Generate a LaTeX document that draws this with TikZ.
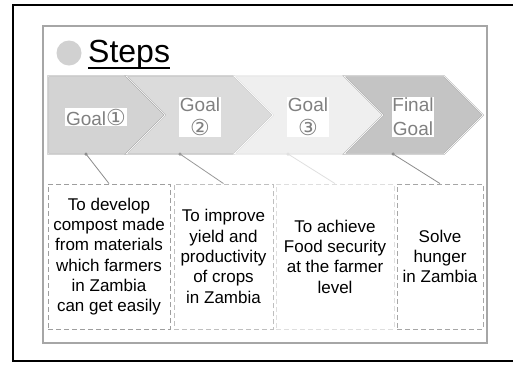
\documentclass[tikz,border=0pt]{standalone}
\usepackage{fontspec}
\setmainfont{Liberation Sans}
\newfontfamily\dvfont{DejaVu Sans}
\newcommand{\circnum}[1]{{\dvfont\fontsize{22}{24}\selectfont #1}}
\begin{document}
\begin{tikzpicture}[x=1pt,y=-1pt,
  chev/.style={draw=black!38, double=white, double distance=0.7pt, line width=0.35pt, line join=miter},
  glabel/.style={fill=white, text=black!50, inner sep=0.8pt, align=center,
    font=\fontsize{19}{24}\selectfont},
  txtbox/.style={dashed, dash pattern=on 5pt off 3pt, line width=0.9pt, minimum height=145pt,
    inner sep=0pt, align=center, text=black, font=\fontsize{17}{20.3}\selectfont},
  conn/.style={line width=0.8pt},
  dotc/.style={circle, inner sep=0pt, minimum size=3.5pt}
]
\useasboundingbox (0,0) rectangle (513,365);
\fill[white] (0,0) rectangle (513,365);
% outer black frame
\draw[line width=2.6pt] (530,5) -- (13,5) -- (13,361) -- (530,361);
% inner gray frame
\draw[line width=1.8pt, color=black!35] (43,26) rectangle (487,343);
% title
\node[circle, fill=black!18, minimum size=25pt, inner sep=0pt] (bullet) at (69,53) {};
\node[anchor=base west, inner sep=0pt, font=\fontsize{32}{36}\selectfont] (title) at (88,62) {Steps};
\draw[line width=1.3pt] (title.base west) ++(0,6) coordinate (ul1) -- (ul1 -| title.base east);
% chevrons
\definecolor{c1}{HTML}{D3D3D3}
\definecolor{c2}{HTML}{DBDBDB}
\definecolor{c3}{HTML}{EFEFEF}
\definecolor{c4}{HTML}{C4C4C4}
\filldraw[chev, fill=c1] (48,76) -- (126,76) -- (165,115) -- (126,154) -- (48,154) -- cycle;
\filldraw[chev, fill=c2] (126,76) -- (234,76) -- (273,115) -- (234,154) -- (126,154) -- (165,115) -- cycle;
\filldraw[chev, fill=c3, draw=black!15] (234,76) -- (344,76) -- (383,115) -- (344,154) -- (234,154) -- (273,115) -- cycle;
\filldraw[chev, fill=c4] (344,76) -- (444,76) -- (483,115) -- (444,154) -- (344,154) -- (383,115) -- cycle;
% chevron labels
\node[glabel] (g1) at (96,117) {Goal\circnum{①}};
\node[glabel] (g2) at (200,117) {Goal\\\circnum{②}};
\node[glabel] (g3) at (308,117) {Goal\\\circnum{③}};
\node[glabel] (g4) at (413,117) {Final\\Goal};
% text boxes
\node[txtbox, draw=black!38, minimum width=122pt] (b1) at (109,256.5)
  {To develop\\compost made\\from materials\\which farmers\\in Zambia\\can get easily};
\node[txtbox, draw=black!25, minimum width=99pt] (b2) at (223.5,256.5)
  {To improve\\yield and\\productivity\\of crops\\in Zambia};
\node[txtbox, draw=black!13, minimum width=118pt] (b3) at (335,256.5)
  {To achieve\\Food security\\at the farmer\\level};
\node[txtbox, draw=black!35, minimum width=86pt] (b4) at (440,256.5)
  {Solve\\hunger\\in Zambia};
% connector dots
\node[dotc, fill=black!45] (d1) at (86,154) {};
\node[dotc, fill=black!40] (d2) at (180,154) {};
\node[dotc, fill=black!12] (d3) at (288,154) {};
\node[dotc, fill=black!45] (d4) at (393,154) {};
\draw[conn, black!45] (d1.center) -- (b1.north);
\draw[conn, black!40] (d2.center) -- (b2.north);
\draw[conn, black!12] (d3.center) -- (b3.north);
\draw[conn, black!45] (d4.center) -- (b4.north);
\end{tikzpicture}
\end{document}
